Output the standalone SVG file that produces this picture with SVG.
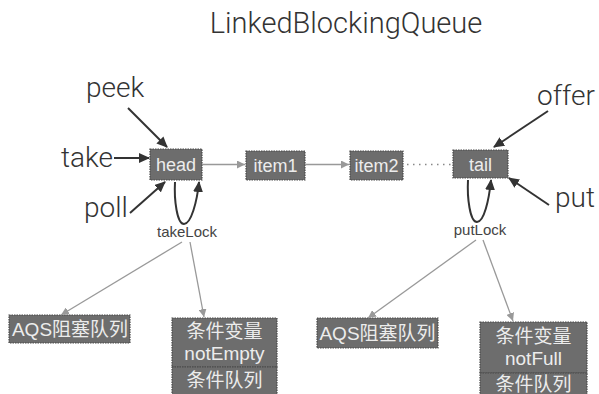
<svg xmlns="http://www.w3.org/2000/svg" width="599" height="394" viewBox="0 0 599 394">
<defs>
<marker id="blk" markerUnits="userSpaceOnUse" markerWidth="12" markerHeight="10" refX="10" refY="5" orient="auto">
<path d="M0,0 L11,5 L0,10 Z" fill="#333"/>
</marker>
<marker id="gry" markerUnits="userSpaceOnUse" markerWidth="9" markerHeight="8" refX="8" refY="4" orient="auto">
<path d="M0,0 L8,4 L0,8 Z" fill="#999"/>
</marker>
</defs>
<style>
.lbl{font-family:Roboto,"Liberation Sans",Arial,sans-serif;font-weight:300;font-size:28px;fill:#333}
.box{fill:#6d6d6d;stroke:#4a4a4a;stroke-width:1.2;stroke-dasharray:1.5 1}
.bt{font-family:"Liberation Sans",Arial,sans-serif;font-size:18px;fill:#ececec;text-anchor:middle}
.ct{font-family:"Liberation Sans","Noto Sans CJK SC",sans-serif;font-size:19px;fill:#ececec;text-anchor:middle}
.lk{font-family:"Liberation Sans",Arial,sans-serif;font-size:15px;fill:#444;text-anchor:middle}
.ba{stroke:#333;stroke-width:2;fill:none;marker-end:url(#blk)}
.ga{stroke:#999;stroke-width:1.3;fill:none;marker-end:url(#gry)}
</style>
<rect width="599" height="394" fill="#fff"/>
<text x="346" y="33" text-anchor="middle" style="font-family:Roboto,'Liberation Sans',Arial,sans-serif;font-weight:300;font-size:29px;fill:#333">LinkedBlockingQueue</text>

<g id="labels">
<text class="lbl" x="86" y="97">peek</text>
<text class="lbl" x="61" y="167">take</text>
<text class="lbl" x="84" y="217">poll</text>
<text class="lbl" x="537" y="105">offer</text>
<text class="lbl" x="555" y="207">put</text>
<text class="lk" x="187" y="237">takeLock</text>
<text class="lk" x="480" y="235">putLock</text>
</g>

<g id="head"><rect class="box" x="150" y="149" width="52" height="31"/><text class="bt" x="176" y="171">head</text></g>
<g id="item1"><rect class="box" x="246" y="151" width="59" height="29"/><text class="bt" x="275.5" y="172">item1</text></g>
<g id="item2"><rect class="box" x="350" y="151" width="53" height="29"/><text class="bt" x="376.5" y="172">item2</text></g>
<g id="tail"><rect class="box" x="453" y="150" width="55" height="28"/><text class="bt" x="480.5" y="171">tail</text></g>

<g id="aqs1"><rect class="box" x="9" y="315" width="121" height="28"/><text class="ct" x="70" y="336">AQS阻塞队列</text></g>
<g id="cond1"><rect class="box" x="172" y="318" width="105" height="49"/><rect class="box" x="172" y="367" width="105" height="28"/>
<text class="ct" x="224.5" y="338">条件变量</text><text class="ct" x="224.5" y="360">notEmpty</text><text class="ct" x="224.5" y="387">条件队列</text></g>
<g id="aqs2"><rect class="box" x="317" y="318" width="121" height="30"/><text class="ct" x="377.5" y="340">AQS阻塞队列</text></g>
<g id="cond2"><rect class="box" x="480" y="322" width="107" height="51"/><rect class="box" x="480" y="373" width="107" height="22"/>
<text class="ct" x="533.5" y="343">条件变量</text><text class="ct" x="533.5" y="365">notFull</text><text class="ct" x="533.5" y="391">条件队列</text></g>

<g id="connectors">
<line class="ba" x1="128" y1="108" x2="167" y2="147"/>
<line class="ba" x1="114" y1="158" x2="149" y2="158"/>
<line class="ba" x1="130" y1="213" x2="165" y2="182"/>
<line class="ba" x1="548" y1="111" x2="494" y2="147"/>
<line class="ba" x1="549" y1="205" x2="509" y2="178"/>
<path class="ba" d="M175,182 C174,200 177,224 184,224 C191,224 197,202 199,182"/>
<path class="ba" d="M468,180 C467,198 470,222 477,222 C484,222 489,200 491,180"/>
<line class="ga" x1="202" y1="164.5" x2="245" y2="164.5"/>
<line class="ga" x1="305" y1="164.5" x2="349" y2="164.5"/>
<line x1="407" y1="164.5" x2="451" y2="164.5" stroke="#888" stroke-width="1.5" stroke-dasharray="1.5 4.5"/>
<line class="ga" x1="182" y1="242" x2="61" y2="315"/>
<line class="ga" x1="190" y1="242" x2="204" y2="317"/>
<line class="ga" x1="476" y1="240" x2="368" y2="318"/>
<line class="ga" x1="483" y1="240" x2="513" y2="321"/>
</g>
</svg>
